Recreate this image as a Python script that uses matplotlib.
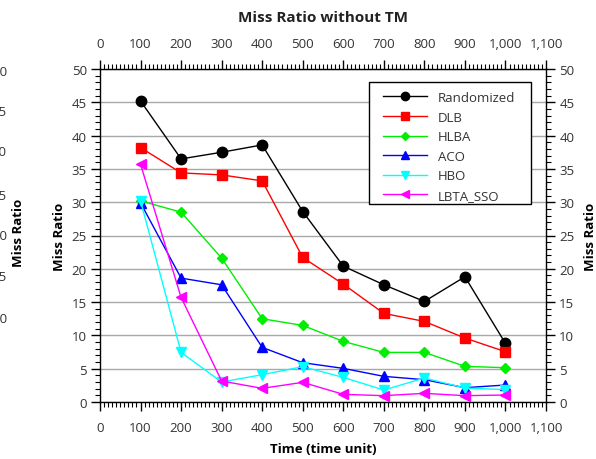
import matplotlib
matplotlib.use("Agg")
import matplotlib.pyplot as plt
from matplotlib.patches import Rectangle
from matplotlib.ticker import MultipleLocator, FuncFormatter

plt.rcParams['font.family'] = ['Open Sans', 'DejaVu Sans']

times = [100, 200, 300, 400, 500, 600, 700, 800, 900, 1000]
randomized = [45.2, 36.5, 37.5, 38.6, 28.6, 20.4, 17.6, 15.1, 18.8, 8.8]
dlb = [38.2, 34.4, 34.1, 33.2, 21.7, 17.7, 13.3, 12.1, 9.6, 7.55]
hlba = [30.2, 28.5, 21.6, 12.5, 11.5, 9.1, 7.45, 7.45, 5.35, 5.15]
aco = [29.9, 18.6, 17.6, 8.2, 5.9, 5.05, 3.85, 3.35, 2.15, 2.55]
hbo = [30.2, 7.45, 3.0, 4.1, 5.3, 3.7, 1.8, 3.6, 2.1, 1.85]
lbta_sso = [35.7, 15.7, 3.15, 2.05, 2.95, 1.15, 0.95, 1.3, 0.95, 1.05]

series = [
    ("Randomized", randomized, "black", "o", 7.5),
    ("DLB", dlb, "#ff0000", "s", 7.5),
    ("HLBA", hlba, "#00ee00", "D", 5.5),
    ("ACO", aco, "#0000ff", "^", 7.5),
    ("HBO", hbo, "#00ffff", "v", 7.5),
    ("LBTA_SSO", lbta_sso, "#ff00ff", "<", 7.5),
]

label_color = "#333333"

fig = plt.figure(figsize=(5.96, 4.60), dpi=100)
ax = fig.add_axes([100 / 596, 57 / 460, 446 / 596, 333 / 460])

for name, vals, col, mk, ms in series:
    ax.plot(times, vals, color=col, marker=mk, markersize=ms, linewidth=1.0,
            label=name, zorder=3)

ax.set_xlim(0, 1100)
ax.set_ylim(0, 50)
ax.xaxis.set_major_locator(MultipleLocator(100))
ax.xaxis.set_minor_locator(MultipleLocator(10))
ax.yaxis.set_major_locator(MultipleLocator(5))
ax.yaxis.set_minor_locator(MultipleLocator(1))
ax.xaxis.set_major_formatter(FuncFormatter(lambda v, p: f"{int(v):,}"))

ax.tick_params(which="both", direction="out", top=True, right=True,
               labeltop=True, labelright=True, labelsize=9.5,
               labelcolor=label_color, color="black")
ax.tick_params(which="major", length=6.5, width=1.0)
ax.tick_params(which="minor", length=3.5, width=0.8)
ax.tick_params(axis="x", which="major", pad=7)
ax.tick_params(axis="y", which="major", pad=3)

ax.grid(axis="y", which="major", color="#a8a8a8", linewidth=1.0, zorder=0)
ax.set_axisbelow(True)
for sp in ax.spines.values():
    sp.set_color("black")
    sp.set_linewidth(1.0)

ax.set_xlabel("Time (time unit)", fontsize=9.5, fontweight="bold", labelpad=6)
ax.set_ylabel("Miss Ratio", fontsize=9.5, fontweight="bold", labelpad=4)
ax2 = ax.secondary_yaxis("right")
ax2.set_yticks([])
ax2.spines["right"].set_visible(False)
ax2.set_ylabel("Miss Ratio", fontsize=9.5, fontweight="bold", labelpad=27)

fig.text(0.5 * (100 + 546) / 596, 1 - 18 / 460, "Miss Ratio without TM",
         ha="center", va="center", fontsize=11, fontweight="bold",
         color="#222222")

# Legend box: white panel with black border behind a frameless legend
ax.add_patch(Rectangle((0.603, 0.595), 0.363, 0.366, transform=ax.transAxes,
                       facecolor="white", edgecolor="black", linewidth=1.0,
                       zorder=4))
leg = ax.legend(loc="upper left", bbox_to_anchor=(0.6345, 0.934),
                fontsize=9.5, handlelength=3.3, frameon=False,
                borderpad=0.0, borderaxespad=0.0, labelspacing=0.5,
                handletextpad=0.85, markerscale=0.8)
leg.set_zorder(5)
for t in leg.get_texts():
    t.set_color(label_color)

# Edge of the neighbouring panel's right axis
side_labels = ["50", "45", "40", "35", "30", "25", "20"]
side_y = [72, 112, 153, 197, 237, 278, 320]
for s, yp in zip(side_labels, side_y):
    fig.text(7 / 596, 1 - yp / 460, s, ha="right", va="center",
             fontsize=9.5, color=label_color)
fig.text(18 / 596, 1 - 233 / 460, "Miss Ratio", rotation=90, ha="center",
         va="center", fontsize=9.5, fontweight="bold")

fig.savefig("out.png", dpi=100)
